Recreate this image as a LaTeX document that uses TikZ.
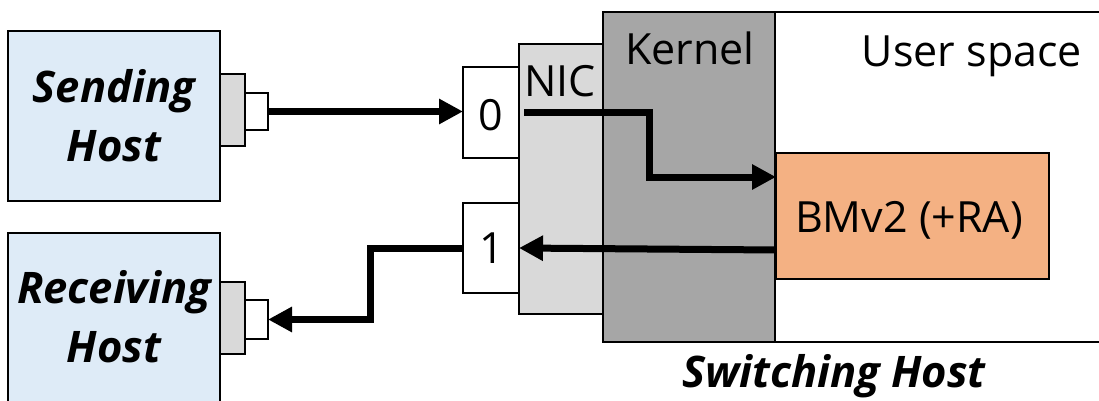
\documentclass[tikz,border=0pt]{standalone}
\usepackage{fontspec}
\setmainfont{Open Sans}
\usetikzlibrary{arrows.meta}
\definecolor{hostblue}{HTML}{DEEBF7}
\definecolor{ltgray}{HTML}{D9D9D9}
\definecolor{kgray}{HTML}{A6A6A6}
\definecolor{bmorange}{HTML}{F4B183}
\begin{document}
\begin{tikzpicture}[x=1pt,y=-1pt,
  box/.style={draw, line width=2.8pt, inner sep=0pt, outer sep=0pt, anchor=north west},
  txt/.style={font=\fontsize{43}{59}\selectfont, inner sep=0pt, outer sep=0pt},
  htxt/.style={font=\fontsize{43.5}{59}\selectfont\bfseries\itshape, inner sep=0pt, align=center},
  flow/.style={line width=7pt, -{Triangle[length=24pt,width=24pt]}}]
\useasboundingbox (0,0) rectangle (1099,401);
\clip (0,0) rectangle (1099,401);
% switching host parts
\node[box, fill=white, minimum width=400pt, minimum height=330pt] (user) at (775,12) {};
\node[box, fill=kgray, minimum width=172pt, minimum height=330pt] (kernel) at (603,12) {};
\node[box, fill=ltgray, minimum width=84pt, minimum height=270pt] (nic) at (519,44) {};
\node[box, fill=white, minimum width=56pt, minimum height=91pt, txt] (port0) at (463,67) {};
\node[box, fill=white, minimum width=56pt, minimum height=90pt, txt] (port1) at (463,203) {};
\node[box, fill=bmorange, minimum width=273pt, minimum height=126pt] (bmv2) at (776,153) {};
% texts
\node[txt, anchor=base] (kerneltxt) at (690,65) {Kernel};
\node[txt, anchor=base] (usertxt) at (972,67) {User space};
\node[txt, anchor=base] (nictxt) at (560,97) {NIC};
\node[txt, anchor=base] (p0txt) at (491,130) {0};
\node[txt, anchor=base] (p1txt) at (492,263) {1};
\node[txt, anchor=base] (bmtxt) at (909,232) {BMv2 (+RA)};
\node[htxt, anchor=base] (swtxt) at (834,387) {Switching Host};
% hosts
\node[box, fill=hostblue, minimum width=212pt, minimum height=170pt, htxt] (send) at (8,31) {Sending\\Host};
\node[box, fill=ltgray, minimum width=25pt, minimum height=72pt] (sendplug) at (220,74) {};
\node[box, fill=white, minimum width=23pt, minimum height=37pt] (sendjack) at (245,93) {};
\node[box, fill=hostblue, minimum width=212pt, minimum height=200pt] (recv) at (8,233) {};
\node[htxt] (recvtxt) at (114,316.5) {Receiving\\Host};
\node[box, fill=ltgray, minimum width=25pt, minimum height=72pt] (recvplug) at (220,282) {};
\node[box, fill=white, minimum width=23pt, minimum height=39pt] (recvjack) at (245,300) {};
% flows
\coordinate (nicin) at (524,113);
\draw[flow] (sendjack.east) -- (sendjack.east -| port0.west);
\draw[flow] (nicin) -- ++(125,0) |- ([yshift=-24pt]bmv2.north west);
\draw[flow] ([yshift=-97pt]bmv2.north west) -- (port1.east);
\draw[flow] (port1.west) -- ++(-93,0) |- (recvjack.east);
\end{tikzpicture}
\end{document}
